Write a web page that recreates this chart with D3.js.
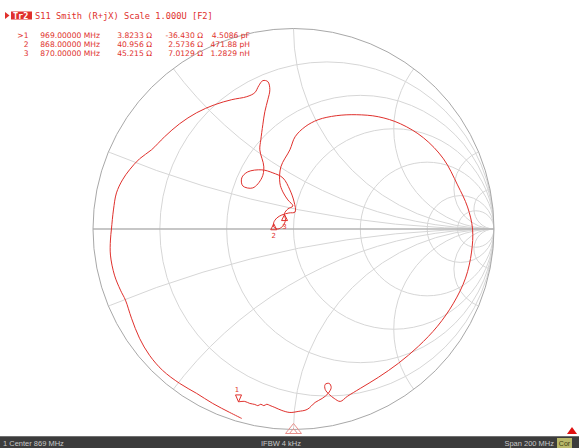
<!DOCTYPE html>
<html>
<head>
<meta charset="utf-8">
<script src="https://cdn.jsdelivr.net/npm/d3@7"></script>
<style>
  html, body { margin: 0; padding: 0; background: #fff; }
  svg { display: block; }
</style>
</head>
<body>
<svg id="chart" width="579" height="448"></svg>
<script>
// S11 Smith chart, 769–969 MHz sweep, three markers.

const W = 579, H = 448;
const CX = 293.5, CY = 229, RAD = 200.5;
const Z0 = 50;

// grid
const rCircles = [0.2, 0.5, 1, 2, 5, 10];
const xArcs = [0.2, 0.5, 1, 2, 5, 10];

// trace, reflection coefficient (769 MHz → 969 MHz)
const traceRe = [
  -0.258, -0.318, -0.403, -0.483, -0.568, -0.653, -0.718, -0.768, -0.808, -0.838,
  -0.863, -0.893, -0.913, -0.913, -0.908, -0.898, -0.883, -0.853, -0.818, -0.768,
  -0.708, -0.643, -0.568, -0.483, -0.393, -0.308, -0.233, -0.193, -0.173, -0.153,
  -0.128, -0.118, -0.128, -0.143, -0.153, -0.163, -0.168, -0.148, -0.158, -0.203,
  -0.253, -0.258, -0.228, -0.158, -0.103, -0.053, -0.018, 0.003, 0.008, -0.023,
  -0.058, -0.083, -0.099, -0.098, -0.078, -0.053, -0.040, -0.045, -0.028, -0.003,
  -0.028, -0.053, -0.068, -0.063, -0.018, 0.008, 0.058, 0.123, 0.213, 0.313,
  0.423, 0.533, 0.648, 0.748, 0.818, 0.868, 0.893, 0.888, 0.858, 0.798,
  0.718, 0.623, 0.523, 0.423, 0.333, 0.268, 0.233, 0.203, 0.178, 0.158,
  0.158, 0.178, 0.188, 0.173, 0.143, 0.108, 0.068, 0.023, -0.018, -0.058,
  -0.093, -0.118, -0.133, -0.148, -0.163, -0.178, -0.193, -0.218, -0.243, -0.274,
];
const traceIm = [
  -0.945, -0.915, -0.870, -0.820, -0.770, -0.705, -0.630, -0.545, -0.445, -0.355,
  -0.305, -0.230, -0.130, -0.055, 0.000, 0.095, 0.180, 0.245, 0.295, 0.350,
  0.395, 0.460, 0.525, 0.580, 0.620, 0.645, 0.660, 0.680, 0.715, 0.740,
  0.735, 0.695, 0.645, 0.585, 0.520, 0.445, 0.395, 0.310, 0.255, 0.205,
  0.215, 0.255, 0.285, 0.295, 0.280, 0.255, 0.195, 0.135, 0.085, 0.080,
  0.070, 0.055, 0.031, 0.010, 0.000, 0.015, 0.045, 0.077, 0.100, 0.115,
  0.145, 0.185, 0.230, 0.310, 0.395, 0.460, 0.510, 0.545, 0.565, 0.570,
  0.560, 0.525, 0.455, 0.350, 0.220, 0.110, 0.000, -0.115, -0.245, -0.370,
  -0.485, -0.585, -0.670, -0.740, -0.795, -0.835, -0.860, -0.845, -0.825, -0.800,
  -0.775, -0.770, -0.790, -0.820, -0.845, -0.865, -0.900, -0.910, -0.915, -0.905,
  -0.890, -0.880, -0.874, -0.881, -0.874, -0.881, -0.875, -0.870, -0.860, -0.862,
];

// markers
const markerIds = ["1", "2", "3"];
const markerFreq = ["969.00000 MHz", "868.00000 MHz", "870.00000 MHz"];
const markerR = [3.8233, 40.956, 45.215];
const markerX = [-36.430, 2.5736, 7.0129];
const markerRText = ["3.8233 Ω", "40.956 Ω", "45.215 Ω"];
const markerXText = ["-36.430 Ω", "2.5736 Ω", "7.0129 Ω"];
const markerElem = ["4.5086 pF", "471.88 pH", "1.2829 nH"];
const activeMarker = 0;

const statusLeft = "1  Center 869 MHz";
const statusMid = "IFBW 4 kHz";
const statusRight = "Span 200 MHz";

const RED = "#e0302c";
const MONO = "'DejaVu Sans Mono', monospace";
const SANS = "'DejaVu Sans', Verdana, sans-serif";
const NARROW = "'Liberation Sans', Arial, sans-serif";

const svg = d3.select("#chart");
const x = d3.scaleLinear().domain([-1, 1]).range([CX - RAD, CX + RAD]);
const y = d3.scaleLinear().domain([-1, 1]).range([CY + RAD, CY - RAD]);
const k = RAD; // pixels per unit of Γ

function gamma(R, X) {
  const a = R / Z0, b = X / Z0;
  const nr = a - 1, ni = b, dr = a + 1, di = b;
  const d = dr * dr + di * di;
  return [(nr * dr + ni * di) / d, (ni * dr - nr * di) / d];
}

svg.append("defs").append("clipPath").attr("id", "unit")
  .append("circle").attr("cx", x(0)).attr("cy", y(0)).attr("r", k);

const grid = svg.append("g").attr("clip-path", "url(#unit)")
  .attr("fill", "none").attr("stroke", "#d6d6d6").attr("stroke-width", 1);

grid.selectAll("circle.r").data(rCircles).enter().append("circle")
  .attr("class", "r")
  .attr("cx", (r) => x(r / (1 + r))).attr("cy", y(0))
  .attr("r", (r) => k / (1 + r));

grid.selectAll("circle.xp").data(xArcs.flatMap((v) => [v, -v])).enter().append("circle")
  .attr("class", "xp")
  .attr("cx", x(1)).attr("cy", (v) => y(1 / v))
  .attr("r", (v) => k / Math.abs(v));

svg.append("line")
  .attr("x1", x(-1)).attr("x2", x(1)).attr("y1", y(0)).attr("y2", y(0))
  .attr("stroke", "#b4b4b4").attr("stroke-width", 1.6);

svg.append("circle")
  .attr("cx", x(0)).attr("cy", y(0)).attr("r", k)
  .attr("fill", "none").attr("stroke", "#a8a8a8").attr("stroke-width", 1);

// trace
const pts = traceRe.map((re, i) => [x(re), y(traceIm[i])]);
svg.append("path")
  .attr("d", d3.line().curve(d3.curveCatmullRom.alpha(0.5))(pts))
  .attr("fill", "none").attr("stroke", RED).attr("stroke-width", 1);

// markers on trace
markerIds.forEach((id, i) => {
  const [gr, gi] = gamma(markerR[i], markerX[i]);
  const px = x(gr), py = y(gi);
  const g = svg.append("g").attr("fill", "none").attr("stroke", RED).attr("stroke-width", 1);
  if (i === activeMarker) {
    g.append("path").attr("d", `M${px},${py}L${px - 3},${py - 7}L${px + 3},${py - 7}Z`);
    svg.append("text").attr("x", px - 1.5).attr("y", py - 10).attr("text-anchor", "middle")
      .style("font", `7px ${SANS}`).style("fill", RED).text(id);
  } else {
    g.append("path").attr("d", `M${px},${py + 1}L${px - 3},${py + 7}L${px + 3},${py + 7}Z`);
    svg.append("text").attr("x", px).attr("y", py + 15).attr("text-anchor", "middle")
      .style("font", `7px ${SANS}`).style("fill", RED).text(id);
  }
});

// stimulus marker at bottom
const sx = x(0), sy = y(-1);
svg.append("path")
  .attr("d", `M${sx},${sy - 6}L${sx - 8},${sy + 4}L${sx + 8},${sy + 4}Z M${sx - 4},${sy + 4}L${sx},${sy - 1}L${sx + 4},${sy + 4}`)
  .attr("fill", "none").attr("stroke", "#e8908c").attr("stroke-width", 1);

// header
svg.append("path").attr("d", "M5,12L9.5,15.5L5,19Z").attr("fill", RED);
svg.append("rect").attr("x", 11).attr("y", 11.5).attr("width", 21).attr("height", 8).attr("fill", RED);
svg.append("text").attr("x", 13).attr("y", 18.5)
  .style("font", `bold 8.5px ${MONO}`).style("fill", "#fff").text("Tr2");
svg.append("text").attr("x", 35).attr("y", 18.5)
  .style("font", `8.7px ${MONO}`).style("fill", RED).text("S11 Smith (R+jX) Scale 1.000U [F2]");

// marker table
const rowY = [37.5, 46.5, 55.5];
const cols = [
  { end: 28.5, get: (i) => (i === activeMarker ? ">" : "") + markerIds[i] },
  { end: 100, get: (i) => markerFreq[i] },
  { end: 152, get: (i) => markerRText[i] },
  { end: 203, get: (i) => markerXText[i] },
  { end: 250, get: (i) => markerElem[i] },
];
markerIds.forEach((id, i) => {
  cols.forEach((c) => {
    svg.append("text").attr("x", c.end).attr("y", rowY[i]).attr("text-anchor", "end")
      .style("font", `7.6px ${SANS}`).style("fill", RED).text(c.get(i));
  });
});

// status bar
svg.append("rect").attr("x", 0).attr("y", 436).attr("width", W).attr("height", 12).attr("fill", "#3c3c3c");
svg.append("line").attr("x1", 0).attr("x2", W).attr("y1", 436.5).attr("y2", 436.5).attr("stroke", "#707070");
svg.append("text").attr("x", 3).attr("y", 446).style("font", `7.5px ${NARROW}`).style("fill", "#c8c8c8").text(statusLeft);
svg.append("text").attr("x", 281).attr("y", 446).attr("text-anchor", "middle")
  .style("font", `7.5px ${NARROW}`).style("fill", "#c8c8c8").text(statusMid);
svg.append("text").attr("x", 554).attr("y", 446).attr("text-anchor", "end")
  .style("font", `7.5px ${NARROW}`).style("fill", "#c8c8c8").text(statusRight);
svg.append("rect").attr("x", 557).attr("y", 438).attr("width", 15).attr("height", 10).attr("fill", "#b9b86a");
svg.append("text").attr("x", 564.5).attr("y", 446).attr("text-anchor", "middle")
  .style("font", `7px ${NARROW}`).style("fill", "#3a3a10").text("Cor");
svg.append("path").attr("d", "M572,427L577,434L567,434Z").attr("fill", "#e01010");
</script>
</body>
</html>
